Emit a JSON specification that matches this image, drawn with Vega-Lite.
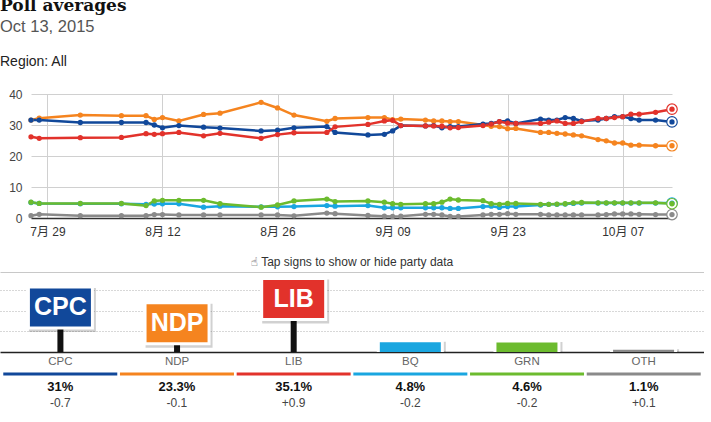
{
  "$schema": "https://vega.github.io/schema/vega-lite/v6.json",
  "background": "white",
  "padding": {"left": 0, "top": -4, "right": 0, "bottom": 0},
  "spacing": 5,
  "columns": 1,
  "align": "none",
  "title": {
    "text": "Poll averages",
    "subtitle": "Oct 13, 2015",
    "anchor": "start",
    "font": "DejaVu Serif",
    "fontSize": 17,
    "fontWeight": "bold",
    "color": "#111111",
    "subtitleFont": "Liberation Sans",
    "subtitleFontSize": 16.5,
    "subtitleColor": "#555555",
    "subtitlePadding": 4,
    "offset": 19
  },
  "config": {"view": {"stroke": null}, "font": "Liberation Sans"},
  "datasets": {
    "polls": [
      {"d":"2015/07/27","p":"OTH","v":0.75},{"d":"2015/07/28","p":"OTH","v":1.2},{"d":"2015/08/02","p":"OTH","v":0.75},{"d":"2015/08/07","p":"OTH","v":0.75},{"d":"2015/08/10","p":"OTH","v":0.75},{"d":"2015/08/11","p":"OTH","v":1.1},{"d":"2015/08/12","p":"OTH","v":1.1},{"d":"2015/08/14","p":"OTH","v":1.0},{"d":"2015/08/17","p":"OTH","v":1.0},{"d":"2015/08/19","p":"OTH","v":1.0},{"d":"2015/08/24","p":"OTH","v":1.0},{"d":"2015/08/26","p":"OTH","v":1.0},{"d":"2015/08/28","p":"OTH","v":0.7},{"d":"2015/09/01","p":"OTH","v":1.6},{"d":"2015/09/02","p":"OTH","v":1.4},{"d":"2015/09/06","p":"OTH","v":0.8},{"d":"2015/09/08","p":"OTH","v":0.6},{"d":"2015/09/09","p":"OTH","v":0.5},{"d":"2015/09/10","p":"OTH","v":0.6},{"d":"2015/09/13","p":"OTH","v":1.2},{"d":"2015/09/14","p":"OTH","v":1.2},{"d":"2015/09/15","p":"OTH","v":1.0},{"d":"2015/09/16","p":"OTH","v":0.5},{"d":"2015/09/17","p":"OTH","v":0.5},{"d":"2015/09/20","p":"OTH","v":1.0},{"d":"2015/09/21","p":"OTH","v":1.2},{"d":"2015/09/22","p":"OTH","v":1.2},{"d":"2015/09/23","p":"OTH","v":1.4},{"d":"2015/09/24","p":"OTH","v":1.2},{"d":"2015/09/27","p":"OTH","v":1.2},{"d":"2015/09/28","p":"OTH","v":1.0},{"d":"2015/09/29","p":"OTH","v":1.0},{"d":"2015/09/30","p":"OTH","v":1.0},{"d":"2015/10/01","p":"OTH","v":1.0},{"d":"2015/10/02","p":"OTH","v":1.0},{"d":"2015/10/04","p":"OTH","v":1.0},{"d":"2015/10/05","p":"OTH","v":1.1},{"d":"2015/10/06","p":"OTH","v":1.3},{"d":"2015/10/07","p":"OTH","v":1.3},{"d":"2015/10/08","p":"OTH","v":1.3},{"d":"2015/10/09","p":"OTH","v":1.2},{"d":"2015/10/11","p":"OTH","v":1.1},{"d":"2015/10/13","p":"OTH","v":1.1},
      {"d":"2015/07/27","p":"BQ","v":5.0},{"d":"2015/07/28","p":"BQ","v":4.7},{"d":"2015/08/02","p":"BQ","v":4.6},{"d":"2015/08/07","p":"BQ","v":4.6},{"d":"2015/08/10","p":"BQ","v":4.4},{"d":"2015/08/11","p":"BQ","v":4.5},{"d":"2015/08/12","p":"BQ","v":4.6},{"d":"2015/08/14","p":"BQ","v":4.6},{"d":"2015/08/17","p":"BQ","v":3.5},{"d":"2015/08/19","p":"BQ","v":3.8},{"d":"2015/08/24","p":"BQ","v":3.6},{"d":"2015/08/26","p":"BQ","v":3.6},{"d":"2015/08/28","p":"BQ","v":3.7},{"d":"2015/09/01","p":"BQ","v":4.0},{"d":"2015/09/02","p":"BQ","v":3.8},{"d":"2015/09/06","p":"BQ","v":4.0},{"d":"2015/09/08","p":"BQ","v":3.3},{"d":"2015/09/09","p":"BQ","v":3.3},{"d":"2015/09/10","p":"BQ","v":3.3},{"d":"2015/09/13","p":"BQ","v":3.3},{"d":"2015/09/14","p":"BQ","v":3.3},{"d":"2015/09/15","p":"BQ","v":3.3},{"d":"2015/09/16","p":"BQ","v":3.1},{"d":"2015/09/17","p":"BQ","v":3.1},{"d":"2015/09/20","p":"BQ","v":3.7},{"d":"2015/09/21","p":"BQ","v":3.8},{"d":"2015/09/22","p":"BQ","v":3.4},{"d":"2015/09/23","p":"BQ","v":3.7},{"d":"2015/09/24","p":"BQ","v":3.7},{"d":"2015/09/27","p":"BQ","v":4.2},{"d":"2015/09/28","p":"BQ","v":4.4},{"d":"2015/09/29","p":"BQ","v":4.4},{"d":"2015/09/30","p":"BQ","v":4.5},{"d":"2015/10/01","p":"BQ","v":4.7},{"d":"2015/10/02","p":"BQ","v":4.8},{"d":"2015/10/04","p":"BQ","v":4.8},{"d":"2015/10/05","p":"BQ","v":4.8},{"d":"2015/10/06","p":"BQ","v":4.8},{"d":"2015/10/07","p":"BQ","v":4.8},{"d":"2015/10/08","p":"BQ","v":4.8},{"d":"2015/10/09","p":"BQ","v":4.8},{"d":"2015/10/11","p":"BQ","v":4.8},{"d":"2015/10/13","p":"BQ","v":4.8},
      {"d":"2015/07/27","p":"GRN","v":5.1},{"d":"2015/07/28","p":"GRN","v":4.7},{"d":"2015/08/02","p":"GRN","v":4.7},{"d":"2015/08/07","p":"GRN","v":4.7},{"d":"2015/08/10","p":"GRN","v":4.0},{"d":"2015/08/11","p":"GRN","v":5.5},{"d":"2015/08/12","p":"GRN","v":5.7},{"d":"2015/08/14","p":"GRN","v":5.7},{"d":"2015/08/17","p":"GRN","v":5.7},{"d":"2015/08/19","p":"GRN","v":4.6},{"d":"2015/08/24","p":"GRN","v":3.5},{"d":"2015/08/26","p":"GRN","v":4.2},{"d":"2015/08/28","p":"GRN","v":5.5},{"d":"2015/09/01","p":"GRN","v":6.1},{"d":"2015/09/02","p":"GRN","v":5.3},{"d":"2015/09/06","p":"GRN","v":5.5},{"d":"2015/09/08","p":"GRN","v":5.1},{"d":"2015/09/09","p":"GRN","v":4.6},{"d":"2015/09/10","p":"GRN","v":4.4},{"d":"2015/09/13","p":"GRN","v":4.6},{"d":"2015/09/14","p":"GRN","v":4.6},{"d":"2015/09/15","p":"GRN","v":5.1},{"d":"2015/09/16","p":"GRN","v":6.1},{"d":"2015/09/17","p":"GRN","v":5.8},{"d":"2015/09/20","p":"GRN","v":5.6},{"d":"2015/09/21","p":"GRN","v":4.6},{"d":"2015/09/22","p":"GRN","v":4.4},{"d":"2015/09/23","p":"GRN","v":4.7},{"d":"2015/09/24","p":"GRN","v":4.7},{"d":"2015/09/27","p":"GRN","v":4.4},{"d":"2015/09/28","p":"GRN","v":4.4},{"d":"2015/09/29","p":"GRN","v":4.5},{"d":"2015/09/30","p":"GRN","v":4.6},{"d":"2015/10/01","p":"GRN","v":4.9},{"d":"2015/10/02","p":"GRN","v":5.0},{"d":"2015/10/04","p":"GRN","v":4.9},{"d":"2015/10/05","p":"GRN","v":4.9},{"d":"2015/10/06","p":"GRN","v":4.9},{"d":"2015/10/07","p":"GRN","v":4.9},{"d":"2015/10/08","p":"GRN","v":4.9},{"d":"2015/10/09","p":"GRN","v":4.9},{"d":"2015/10/11","p":"GRN","v":4.9},{"d":"2015/10/13","p":"GRN","v":4.6},
      {"d":"2015/07/27","p":"NDP","v":31.6},{"d":"2015/07/28","p":"NDP","v":32.2},{"d":"2015/08/02","p":"NDP","v":33.2},{"d":"2015/08/07","p":"NDP","v":33.0},{"d":"2015/08/10","p":"NDP","v":33.0},{"d":"2015/08/11","p":"NDP","v":31.8},{"d":"2015/08/12","p":"NDP","v":32.4},{"d":"2015/08/14","p":"NDP","v":31.3},{"d":"2015/08/17","p":"NDP","v":33.4},{"d":"2015/08/19","p":"NDP","v":33.8},{"d":"2015/08/24","p":"NDP","v":37.3},{"d":"2015/08/26","p":"NDP","v":35.5},{"d":"2015/08/28","p":"NDP","v":33.2},{"d":"2015/09/01","p":"NDP","v":31.2},{"d":"2015/09/02","p":"NDP","v":32.1},{"d":"2015/09/06","p":"NDP","v":32.4},{"d":"2015/09/08","p":"NDP","v":32.4},{"d":"2015/09/09","p":"NDP","v":31.7},{"d":"2015/09/10","p":"NDP","v":31.9},{"d":"2015/09/13","p":"NDP","v":31.6},{"d":"2015/09/14","p":"NDP","v":31.3},{"d":"2015/09/15","p":"NDP","v":31.3},{"d":"2015/09/16","p":"NDP","v":31.1},{"d":"2015/09/17","p":"NDP","v":31.1},{"d":"2015/09/20","p":"NDP","v":30.0},{"d":"2015/09/21","p":"NDP","v":29.6},{"d":"2015/09/22","p":"NDP","v":29.5},{"d":"2015/09/23","p":"NDP","v":28.8},{"d":"2015/09/24","p":"NDP","v":28.9},{"d":"2015/09/27","p":"NDP","v":27.6},{"d":"2015/09/28","p":"NDP","v":27.6},{"d":"2015/09/29","p":"NDP","v":27.3},{"d":"2015/09/30","p":"NDP","v":27.1},{"d":"2015/10/01","p":"NDP","v":26.8},{"d":"2015/10/02","p":"NDP","v":26.5},{"d":"2015/10/04","p":"NDP","v":25.3},{"d":"2015/10/05","p":"NDP","v":24.9},{"d":"2015/10/06","p":"NDP","v":24.2},{"d":"2015/10/07","p":"NDP","v":24.2},{"d":"2015/10/08","p":"NDP","v":23.5},{"d":"2015/10/09","p":"NDP","v":23.5},{"d":"2015/10/11","p":"NDP","v":23.3},{"d":"2015/10/13","p":"NDP","v":23.3},
      {"d":"2015/07/27","p":"CPC","v":31.6},{"d":"2015/07/28","p":"CPC","v":31.6},{"d":"2015/08/02","p":"CPC","v":30.8},{"d":"2015/08/07","p":"CPC","v":30.8},{"d":"2015/08/10","p":"CPC","v":30.8},{"d":"2015/08/11","p":"CPC","v":30.0},{"d":"2015/08/12","p":"CPC","v":29.1},{"d":"2015/08/14","p":"CPC","v":29.8},{"d":"2015/08/17","p":"CPC","v":29.3},{"d":"2015/08/19","p":"CPC","v":29.0},{"d":"2015/08/24","p":"CPC","v":28.1},{"d":"2015/08/26","p":"CPC","v":28.3},{"d":"2015/08/28","p":"CPC","v":29.1},{"d":"2015/09/01","p":"CPC","v":29.5},{"d":"2015/09/02","p":"CPC","v":27.6},{"d":"2015/09/06","p":"CPC","v":26.8},{"d":"2015/09/08","p":"CPC","v":27.0},{"d":"2015/09/09","p":"CPC","v":28.1},{"d":"2015/09/10","p":"CPC","v":29.8},{"d":"2015/09/13","p":"CPC","v":29.7},{"d":"2015/09/14","p":"CPC","v":29.8},{"d":"2015/09/15","p":"CPC","v":29.1},{"d":"2015/09/16","p":"CPC","v":29.5},{"d":"2015/09/17","p":"CPC","v":29.5},{"d":"2015/09/20","p":"CPC","v":30.3},{"d":"2015/09/21","p":"CPC","v":30.5},{"d":"2015/09/22","p":"CPC","v":31.1},{"d":"2015/09/23","p":"CPC","v":31.3},{"d":"2015/09/24","p":"CPC","v":30.5},{"d":"2015/09/27","p":"CPC","v":31.9},{"d":"2015/09/28","p":"CPC","v":31.6},{"d":"2015/09/29","p":"CPC","v":31.6},{"d":"2015/09/30","p":"CPC","v":32.4},{"d":"2015/10/01","p":"CPC","v":32.1},{"d":"2015/10/02","p":"CPC","v":31.3},{"d":"2015/10/04","p":"CPC","v":31.6},{"d":"2015/10/05","p":"CPC","v":32.1},{"d":"2015/10/06","p":"CPC","v":32.7},{"d":"2015/10/07","p":"CPC","v":32.7},{"d":"2015/10/08","p":"CPC","v":32.1},{"d":"2015/10/09","p":"CPC","v":31.6},{"d":"2015/10/11","p":"CPC","v":31.6},{"d":"2015/10/13","p":"CPC","v":31.0},
      {"d":"2015/07/27","p":"LIB","v":26.2},{"d":"2015/07/28","p":"LIB","v":25.7},{"d":"2015/08/02","p":"LIB","v":25.9},{"d":"2015/08/07","p":"LIB","v":26.0},{"d":"2015/08/10","p":"LIB","v":27.2},{"d":"2015/08/11","p":"LIB","v":27.0},{"d":"2015/08/12","p":"LIB","v":27.2},{"d":"2015/08/14","p":"LIB","v":27.6},{"d":"2015/08/17","p":"LIB","v":26.5},{"d":"2015/08/19","p":"LIB","v":27.3},{"d":"2015/08/24","p":"LIB","v":25.7},{"d":"2015/08/26","p":"LIB","v":26.9},{"d":"2015/08/28","p":"LIB","v":27.5},{"d":"2015/09/01","p":"LIB","v":27.6},{"d":"2015/09/02","p":"LIB","v":29.4},{"d":"2015/09/06","p":"LIB","v":30.2},{"d":"2015/09/08","p":"LIB","v":31.3},{"d":"2015/09/09","p":"LIB","v":31.5},{"d":"2015/09/10","p":"LIB","v":29.8},{"d":"2015/09/13","p":"LIB","v":29.7},{"d":"2015/09/14","p":"LIB","v":29.7},{"d":"2015/09/15","p":"LIB","v":29.6},{"d":"2015/09/16","p":"LIB","v":29.1},{"d":"2015/09/17","p":"LIB","v":29.2},{"d":"2015/09/20","p":"LIB","v":29.8},{"d":"2015/09/21","p":"LIB","v":30.3},{"d":"2015/09/22","p":"LIB","v":31.1},{"d":"2015/09/23","p":"LIB","v":30.6},{"d":"2015/09/24","p":"LIB","v":30.5},{"d":"2015/09/27","p":"LIB","v":30.5},{"d":"2015/09/28","p":"LIB","v":30.9},{"d":"2015/09/29","p":"LIB","v":31.3},{"d":"2015/09/30","p":"LIB","v":30.5},{"d":"2015/10/01","p":"LIB","v":30.5},{"d":"2015/10/02","p":"LIB","v":31.1},{"d":"2015/10/04","p":"LIB","v":32.1},{"d":"2015/10/05","p":"LIB","v":32.1},{"d":"2015/10/06","p":"LIB","v":32.4},{"d":"2015/10/07","p":"LIB","v":32.7},{"d":"2015/10/08","p":"LIB","v":33.5},{"d":"2015/10/09","p":"LIB","v":33.5},{"d":"2015/10/11","p":"LIB","v":34.1},{"d":"2015/10/13","p":"LIB","v":35.1}
    ],
    "now": [
      {"p":"CPC","v":31,"pct":"31%","chg":"-0.7"},
      {"p":"NDP","v":23.3,"pct":"23.3%","chg":"-0.1"},
      {"p":"LIB","v":35.1,"pct":"35.1%","chg":"+0.9"},
      {"p":"BQ","v":4.8,"pct":"4.8%","chg":"-0.2"},
      {"p":"GRN","v":4.6,"pct":"4.6%","chg":"-0.2"},
      {"p":"OTH","v":1.1,"pct":"1.1%","chg":"+0.1"}
    ]
  },
  "concat": [
    {
      "title": {"text": "Region:    All", "anchor": "start", "fontSize": 14, "fontWeight": "normal", "color": "#222222", "offset": 19},
      "width": 672,
      "height": 124,
      "data": {"name": "polls"},
      "encoding": {
        "x": {
          "field": "d", "type": "temporal",
          "scale": {"domain": [{"year": 2015, "month": 7, "date": 27}, {"year": 2015, "month": 10, "date": 13}], "nice": false, "range": [31, 672]},
          "axis": {
            "values": [{"year": 2015, "month": 7, "date": 29}, {"year": 2015, "month": 8, "date": 12}, {"year": 2015, "month": 8, "date": 26}, {"year": 2015, "month": 9, "date": 9}, {"year": 2015, "month": 9, "date": 23}, {"year": 2015, "month": 10, "date": 7}],
            "format": "%-m月 %d",
            "grid": true, "gridColor": "#d0d0d0",
            "domainColor": "#333333", "domainWidth": 1.5,
            "ticks": false,
            "labelFontSize": 12, "labelColor": "#333333", "labelPadding": 8,
            "labelFont": "Liberation Sans, Noto Sans CJK SC",
            "labelFlush": false, "labelOverlap": false,
            "title": "☝︎ Tap signs to show or hide party data",
            "titleFont": "Liberation Sans, DejaVu Sans",
            "titleFontSize": 12, "titleFontWeight": "normal", "titleColor": "#333333", "titlePadding": 19
          }
        },
        "color": {"field": "p", "type": "nominal", "scale": {"domain": ["CPC", "NDP", "LIB", "BQ", "GRN", "OTH"], "range": ["#11489a", "#f5841f", "#e2322b", "#1aa6e0", "#6cbb2e", "#8a8a8a"]}, "legend": null}
      },
      "layer": [
        {
          "data": {"values": [{}]},
          "mark": {"type": "rule", "color": "#000000", "strokeWidth": 1.5},
          "encoding": {"x": {"datum": {"year": 2015, "month": 10, "date": 13}, "type": "temporal"}, "color": {"value": "#000000"}}
        },
        {
          "mark": {"type": "line", "strokeWidth": 2.5},
          "encoding": {
            "y": {"field": "v", "type": "quantitative", "scale": {"domain": [0, 40], "nice": false},
              "axis": {"values": [0, 10, 20, 30, 40], "grid": true, "gridColor": "#d0d0d0", "domain": false, "ticks": false, "labelFontSize": 12, "labelColor": "#444444", "labelPadding": 9, "offset": -31, "labelOverlap": false, "title": null}}
          }
        },
        {
          "transform": [{"filter": {"field": "d", "equal": {"year": 2015, "month": 10, "date": 13}}}],
          "mark": {"type": "point", "filled": false, "fill": "white", "size": 110, "strokeWidth": 1.2, "opacity": 1},
          "encoding": {
            "y": {"field": "v", "type": "quantitative", "scale": {"domain": [0, 40], "nice": false},
              "axis": {"values": [0, 10, 20, 30, 40], "grid": true, "gridColor": "#d0d0d0", "domain": false, "ticks": false, "labelFontSize": 12, "labelColor": "#444444", "labelPadding": 9, "offset": -31, "labelOverlap": false, "title": null}}
          }
        },
        {
          "mark": {"type": "point", "filled": true, "size": 28, "opacity": 1},
          "encoding": {
            "y": {"field": "v", "type": "quantitative", "scale": {"domain": [0, 40], "nice": false},
              "axis": {"values": [0, 10, 20, 30, 40], "grid": true, "gridColor": "#d0d0d0", "domain": false, "ticks": false, "labelFontSize": 12, "labelColor": "#444444", "labelPadding": 9, "offset": -31, "labelOverlap": false, "title": null}}
          }
        }
      ]
    },
    {
      "width": 704,
      "height": 80,
      "data": {"name": "now"},
      "encoding": {
        "x": {"field": "p", "type": "nominal", "sort": ["CPC", "NDP", "LIB", "BQ", "GRN", "OTH"], "scale": {"paddingInner": 0, "paddingOuter": 0.018},
          "axis": {"title": null, "ticks": false, "domainColor": "#222222", "domainWidth": 1.5, "labelColor": "#666666", "labelFontSize": 11.5, "labelPadding": 3, "labelAngle": 0}},
        "y": {"field": "v", "type": "quantitative", "scale": {"domain": [0, 39], "nice": false},
          "axis": {"title": null, "labels": false, "ticks": false, "domain": false, "values": [10, 20, 30, 39], "grid": true,
            "gridColor": {"condition": {"test": "datum.value > 35", "value": "#c8c8c8"}, "value": "#b0b0b0"},
            "gridDash": {"condition": {"test": "datum.value > 35", "value": []}, "value": [1, 2]}}}
      },
      "layer": [
        {"mark": {"type": "bar", "width": 6, "color": "#111111"}},
        {"mark": {"type": "point", "shape": "M-0.94,-0.015H1.06V1.3H-0.94Z", "size": 4489, "filled": true, "color": "#000000", "opacity": 0.18, "clip": true}},
        {"mark": {"type": "point", "shape": "M-1,-0.09H1V1.224H-1Z", "size": 4489, "filled": true, "color": "#ffffff", "opacity": 1, "clip": true}},
        {"mark": {"type": "point", "shape": "M-1,0H1V1.246H-1Z", "size": 3721, "filled": true, "opacity": 1, "clip": true},
          "encoding": {"color": {"field": "p", "type": "nominal", "scale": {"domain": ["CPC", "NDP", "LIB", "BQ", "GRN", "OTH"], "range": ["#11489a", "#f5841f", "#e2322b", "#1aa6e0", "#6cbb2e", "#8a8a8a"]}, "legend": null}}},
        {"transform": [{"filter": {"field": "v", "gt": 10}}],
          "mark": {"type": "text", "font": "Liberation Sans", "fontSize": 25, "fontWeight": "bold", "color": "#ffffff", "baseline": "alphabetic", "dy": 27, "clip": true},
          "encoding": {"text": {"field": "p"}}}
      ]
    },
    {
      "width": 704,
      "height": 35,
      "data": {"name": "now"},
      "encoding": {
        "x": {"field": "p", "type": "nominal", "sort": ["CPC", "NDP", "LIB", "BQ", "GRN", "OTH"], "scale": {"paddingInner": 0.021, "paddingOuter": 0.027}, "axis": null}
      },
      "layer": [
        {"mark": {"type": "tick", "orient": "horizontal", "thickness": 3, "size": 114, "opacity": 1},
          "encoding": {
            "y": {"datum": "b", "type": "nominal", "scale": {"type": "point", "domain": ["b", "p", "c"], "padding": 0.06}, "axis": null},
            "color": {"field": "p", "type": "nominal", "scale": {"domain": ["CPC", "NDP", "LIB", "BQ", "GRN", "OTH"], "range": ["#11489a", "#f5841f", "#e2322b", "#1aa6e0", "#6cbb2e", "#8a8a8a"]}, "legend": null}
          }},
        {"mark": {"type": "text", "fontSize": 13, "fontWeight": "bold", "color": "#111111", "baseline": "alphabetic"},
          "encoding": {"y": {"datum": "p", "type": "nominal"}, "text": {"field": "pct"}}},
        {"mark": {"type": "text", "fontSize": 12, "color": "#444444", "baseline": "alphabetic"},
          "encoding": {"y": {"datum": "c", "type": "nominal"}, "text": {"field": "chg"}}}
      ]
    }
  ]
}
